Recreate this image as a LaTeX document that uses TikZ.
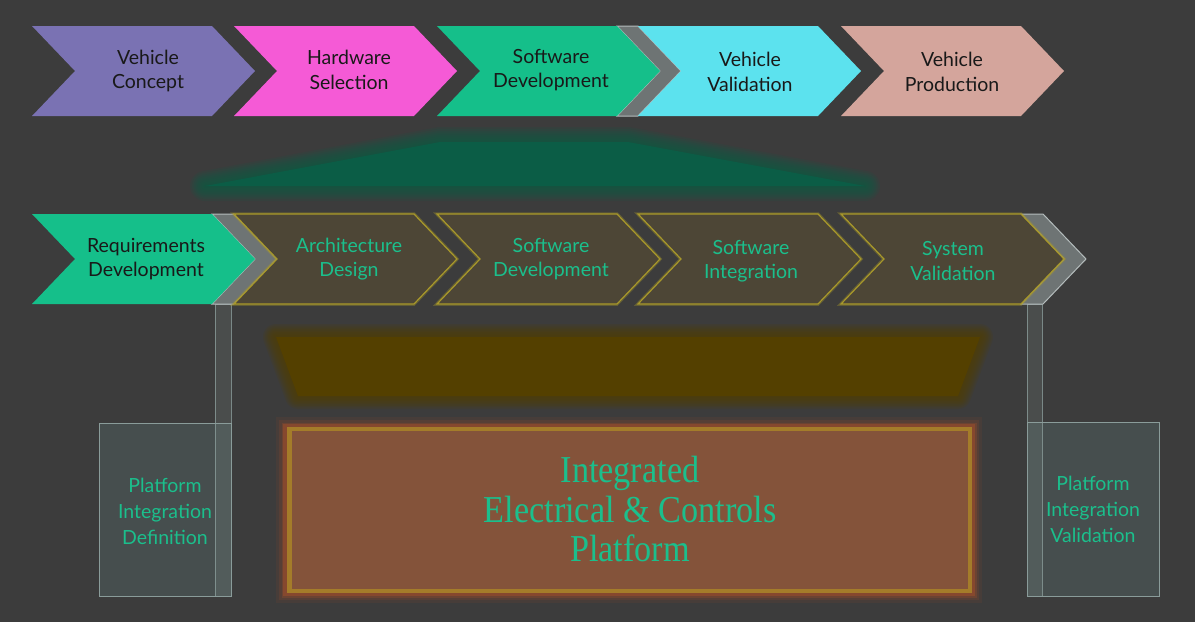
\documentclass[tikz,border=0pt]{standalone}
\usepackage{fontspec}
\setmainfont{Lato}
\newfontfamily\headfont{Liberation Serif}
\usepackage{graphicx}
\definecolor{bg}{HTML}{3C3C3C}
\definecolor{vconcept}{HTML}{7A72B3}
\definecolor{hwsel}{HTML}{F55AD6}
\definecolor{swdev}{HTML}{15BF8A}
\definecolor{vval}{HTML}{5CE2EE}
\definecolor{vprod}{HTML}{D4A59C}
\definecolor{olivefill}{HTML}{4D4636}
\definecolor{oliveedge}{HTML}{A8982A}
\definecolor{txtgreen}{HTML}{1BBF8C}
\definecolor{bandfill}{HTML}{6E7474}
\definecolor{bandedge}{HTML}{B4BCBC}
\definecolor{boxfill}{HTML}{485150}
\definecolor{boxedge}{HTML}{8A9C9A}
\definecolor{glowgreen}{HTML}{0B5D46}
\definecolor{glowolive}{HTML}{544000}
\definecolor{brownfill}{HTML}{84533A}
\definecolor{goldframe}{HTML}{A47C2A}
\definecolor{redglow}{HTML}{86482E}
% #1 colour, #2 maximal stroke width, #3 path
\newcommand\glowpoly[3]{%
  \foreach \f in {1.0,0.875,0.75,0.625,0.5,0.375,0.25,0.125} {\draw[#1,line width=#2*\f pt,opacity=0.14,line join=round] #3;}
  \fill[#1] #3;}
\begin{document}
\begin{tikzpicture}[x=1pt,y=-1pt,
  chev/.pic={\path[pic actions] (0,-45) -- (180,-45) -- (223,0) -- (180,45) -- (0,45) -- (43,0) -- cycle;},
  lbl/.style={align=center,font=\fontsize{19.5}{24.5}\selectfont,inner sep=0pt},
  dark/.style={lbl,text=black!90},
  green/.style={lbl,text=txtgreen},
  outl/.style={fill=olivefill,draw=oliveedge,line width=1.2pt,line join=miter},
  band/.style={fill=bandfill,draw=bandedge,line width=1pt,line join=miter},
  glassbox/.style={fill=boxfill,fill opacity=0.9,draw=boxedge,line width=1pt},
  bar/.style={fill=boxedge,fill opacity=0.18,draw=boxedge,draw opacity=0.8,line width=1pt}]
\useasboundingbox (0,0) rectangle (1195,622);
\fill[bg] (0,0) rectangle (1195,622);

% glows
\glowpoly{glowgreen}{30}{(440,142) -- (628,142) -- (865,186) -- (205,186) -- cycle}
\glowpoly{glowolive}{26}{(276,337) -- (980,337) -- (958,396) -- (298,396) -- cycle}

% top row
\pic[fill=vconcept] at (32,71) {chev};
\pic[fill=hwsel] at (234,71) {chev};
\fill[band] (617,26) -- (638,26) -- (681,71) -- (638,116) -- (617,116) -- (660,71) -- cycle;
\pic[fill=swdev] at (437,71) {chev};
\pic[fill=vval] at (638,71) {chev};
\pic[fill=vprod] at (841,71) {chev};

\node[dark] (vc) at (148,71) {Vehicle\\Concept};
\node[dark] (hs) at (349,70) {Hardware\\Selection};
\node[dark] (sd) at (551,70) {Software\\Development};
\node[dark] (vv) at (750,72) {Vehicle\\Validation};
\node[dark] (vp) at (952,72) {Vehicle\\Production};

% vertical bars and side boxes
\draw[glassbox] (99,423) rectangle (231,596);
\draw[glassbox] (1027,422) rectangle (1159,596);
\draw[bar] (215,304) rectangle (231,596);
\draw[bar] (1027,304) rectangle (1042,596);

% second row
\fill[band] (212,214) -- (234,214) -- (277,259) -- (234,304) -- (212,304) -- (255,259) -- cycle;
\fill[band] (1021,214) -- (1043,214) -- (1086,259) -- (1043,304) -- (1021,304) -- (1064,259) -- cycle;
\pic[fill=swdev] at (32,259) {chev};
\foreach \x in {234,437,638,841} {
  \pic[draw=oliveedge,line width=3.5pt,opacity=0.35] at (\x,259) {chev};
  \pic[outl] at (\x,259) {chev};
}

\node[dark] (rd) at (146,259) {Requirements\\Development};
\node[green] (ad) at (349,259) {Architecture\\Design};
\node[green] (sd2) at (551,259) {Software\\Development};
\node[green] (si) at (751,261) {Software\\Integration};
\node[green] (sv) at (953,261) {System\\Validation};

\node[green,font=\fontsize{19.5}{26}\selectfont] (pid) at (165,511) {Platform\\Integration\\Definition};
\node[green,font=\fontsize{19.5}{26}\selectfont] (piv) at (1093,509) {Platform\\Integration\\Validation};

% main platform box
\foreach \w/\o in {14/0.15,8/0.25,3/0.45} {\draw[redglow,line width=\w pt,opacity=\o] (283,424) rectangle (975,596);}
\fill[redglow] (283,424) rectangle (975,596);
\fill[goldframe] (287,427) rectangle (972,593);
\fill[brownfill] (292,431) rectangle (968,589);
\node[text=txtgreen,align=center,inner sep=0pt,font=\headfont\fontsize{38}{39.5}\selectfont] (iecp) at (630,509)
  {\scalebox{0.9}[1]{Integrated}\\\scalebox{0.9}[1]{Electrical \& Controls}\\\scalebox{0.9}[1]{Platform}};
\end{tikzpicture}
\end{document}
